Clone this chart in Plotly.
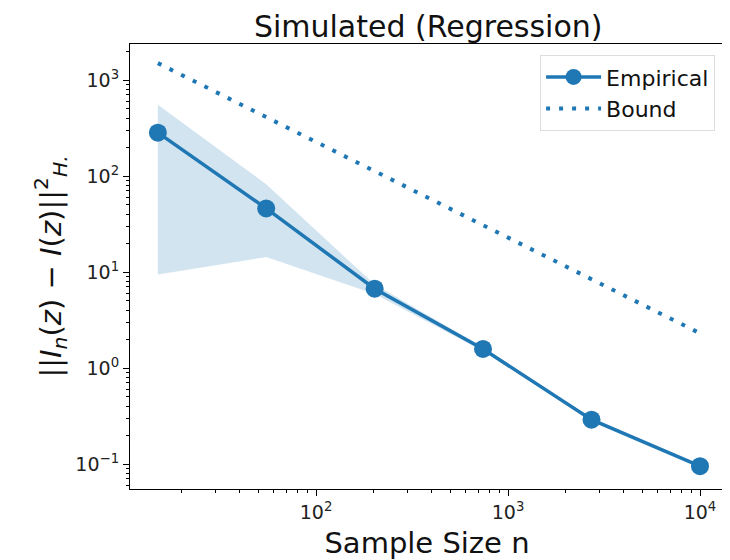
import plotly.graph_objects as go

# Data
sample_sizes = [15, 55, 202, 741, 2722, 10000]
empirical = [283, 46, 6.7, 1.58, 0.29, 0.095]
band_upper = [551, 82, 7.4, 1.66, 0.30, 0.097]
band_lower = [9.4, 14.3, 5.9, 1.50, 0.28, 0.093]
bound = [1500, 411, 112, 30.5, 8.3, 2.3]

x_tickvals = [100, 1000, 10000]
x_ticktext = ["10<sup>2</sup>", "10<sup>3</sup>", "10<sup>4</sup>"]
y_tickvals = [0.1, 1, 10, 100, 1000]
y_ticktext = ["10<sup>−1</sup>", "10<sup>0</sup>", "10<sup>1</sup>", "10<sup>2</sup>", "10<sup>3</sup>"]

BLUE = "#1f77b4"
FONT = "DejaVu Sans"

fig = go.Figure()
fig.add_trace(go.Scatter(x=sample_sizes, y=band_upper, mode="lines", line=dict(width=0),
                         showlegend=False, hoverinfo="skip"))
fig.add_trace(go.Scatter(x=sample_sizes, y=band_lower, mode="lines", line=dict(width=0),
                         fill="tonexty", fillcolor="rgba(31,119,180,0.2)",
                         showlegend=False, hoverinfo="skip"))
fig.add_trace(go.Scatter(x=sample_sizes, y=empirical, mode="lines+markers", name="Empirical",
                         line=dict(color=BLUE, width=3.5),
                         marker=dict(color=BLUE, size=18)))
fig.add_trace(go.Scatter(x=sample_sizes, y=bound, mode="lines", name="Bound",
                         line=dict(color=BLUE, width=4, dash="4px,9px")))

minor_x = [m * 10 ** k for k in range(1, 5) for m in range(2, 10)]
minor_y = [m * 10 ** k for k in range(-2, 4) for m in range(2, 10)]

axis_common = dict(showline=True, linecolor="black", linewidth=1.2, mirror=True,
                   ticks="outside", ticklen=6, tickcolor="black", showgrid=False,
                   zeroline=False, automargin=False,
                   tickfont=dict(family=FONT, size=19, color="#222"))

fig.update_xaxes(type="log", range=[1.031, 4.125], tickmode="array",
                 tickvals=x_tickvals, ticktext=x_ticktext,
                 minor=dict(tickmode="array", tickvals=minor_x, ticks="outside",
                            ticklen=3, tickcolor="black"),
                 title=dict(text="Sample Size n", font=dict(family=FONT, size=29, color="#111"),
                            standoff=10),
                 **axis_common)
fig.update_yaxes(type="log", range=[-1.26, 3.375], tickmode="array",
                 tickvals=y_tickvals, ticktext=y_ticktext,
                 minor=dict(tickmode="array", tickvals=minor_y, ticks="outside",
                            ticklen=3, tickcolor="black"),
                 title=dict(text="||<i>I</i><sub><i>n</i></sub>(<i>z</i>) − <i>I</i>(<i>z</i>)||<sup>2</sup><sub><i>H.</i></sub>",
                            font=dict(family=FONT, size=29, color="#111"), standoff=5),
                 **axis_common)

fig.update_layout(
    width=722, height=552,
    margin=dict(l=122, r=6, t=36, b=71),
    paper_bgcolor="white", plot_bgcolor="white",
    title=dict(text="Simulated (Regression)", x=0.582, xanchor="center", y=0.967, yanchor="middle",
               font=dict(family=FONT, size=30, color="#111")),
    legend=dict(x=0.985, xanchor="right", y=0.975, yanchor="top", traceorder="normal",
                bgcolor="rgba(255,255,255,0.8)", bordercolor="#ddd", borderwidth=1,
                font=dict(family=FONT, size=22, color="#111"), itemwidth=55,
                tracegroupgap=0),
    showlegend=True,
)

fig.write_html("out.html")
